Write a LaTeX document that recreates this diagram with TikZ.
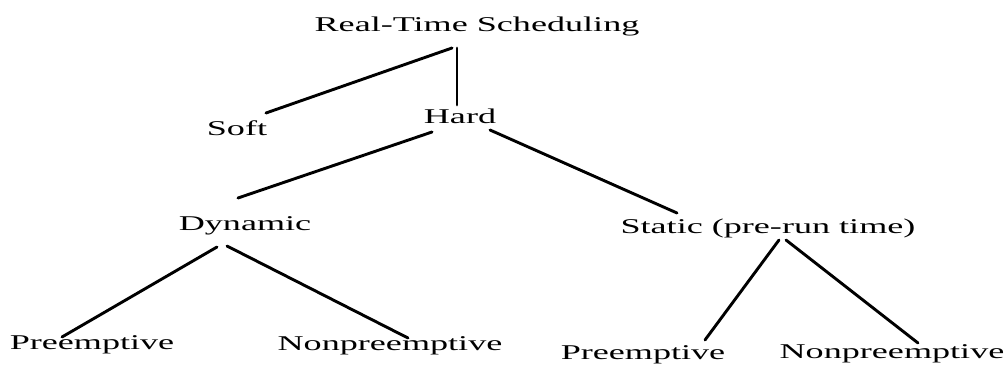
\documentclass[tikz,border=0pt]{standalone}
\usepackage{fontspec}
\setmainfont{Liberation Serif}[FakeStretch=1.72]
\usetikzlibrary{calc}
\tikzset{
  every node/.style={font=\fontsize{21}{25}\selectfont},
  term/.style={inner sep=0pt, anchor=base},
  branch/.style={line width=2.9pt, line cap=round, draw=black}
}

\begin{document}
\begin{tikzpicture}[x=1pt,y=-1pt]
  \useasboundingbox (0,0) rectangle (1007,367);

  % taxonomy labels, placed on their baselines
  \node[term] (root) at (477,31) {Real-Time Scheduling};
  \node[term] (soft) at (237,135) {Soft};
  \node[term] (hard) at (460,123) {Hard};
  \node[term] (dyn) at (245,230) {Dynamic};
  \node[term] (stat) at (768,233) {Static (pre-run time)};
  \node[term] (dynpre) at (92,349) {Preemptive};
  \node[term] (dynnon) at (390,350) {Nonpreemptive};
  \node[term] (statpre) at (643,359) {Preemptive};
  \node[term] (statnon) at (892,358) {Nonpreemptive};

  % branches
  \draw[branch] ($(root.base)+(-25,17)$) -- ($(soft.base)+(29,-22)$);
  \draw[branch] ($(root.base)+(-20,17)$) -- ($(hard.base)+(-3,-18)$);
  \draw[branch] ($(hard.base)+(-28,9)$) -- ($(dyn.base)+(-7,-32)$);
  \draw[branch] ($(hard.base)+(30,7)$) -- ($(stat.base)+(-91,-20)$);
  \draw[branch] ($(dyn.base)+(-28,17)$) -- ($(dynpre.base)+(-30,-12)$);
  \draw[branch] ($(dyn.base)+(-18,16)$) -- ($(dynnon.base)+(18,-12)$);
  \draw[branch] ($(stat.base)+(11,7)$) -- ($(statpre.base)+(62,-19)$);
  \draw[branch] ($(stat.base)+(18,7)$) -- ($(statnon.base)+(26,-15)$);
\end{tikzpicture}
\end{document}
